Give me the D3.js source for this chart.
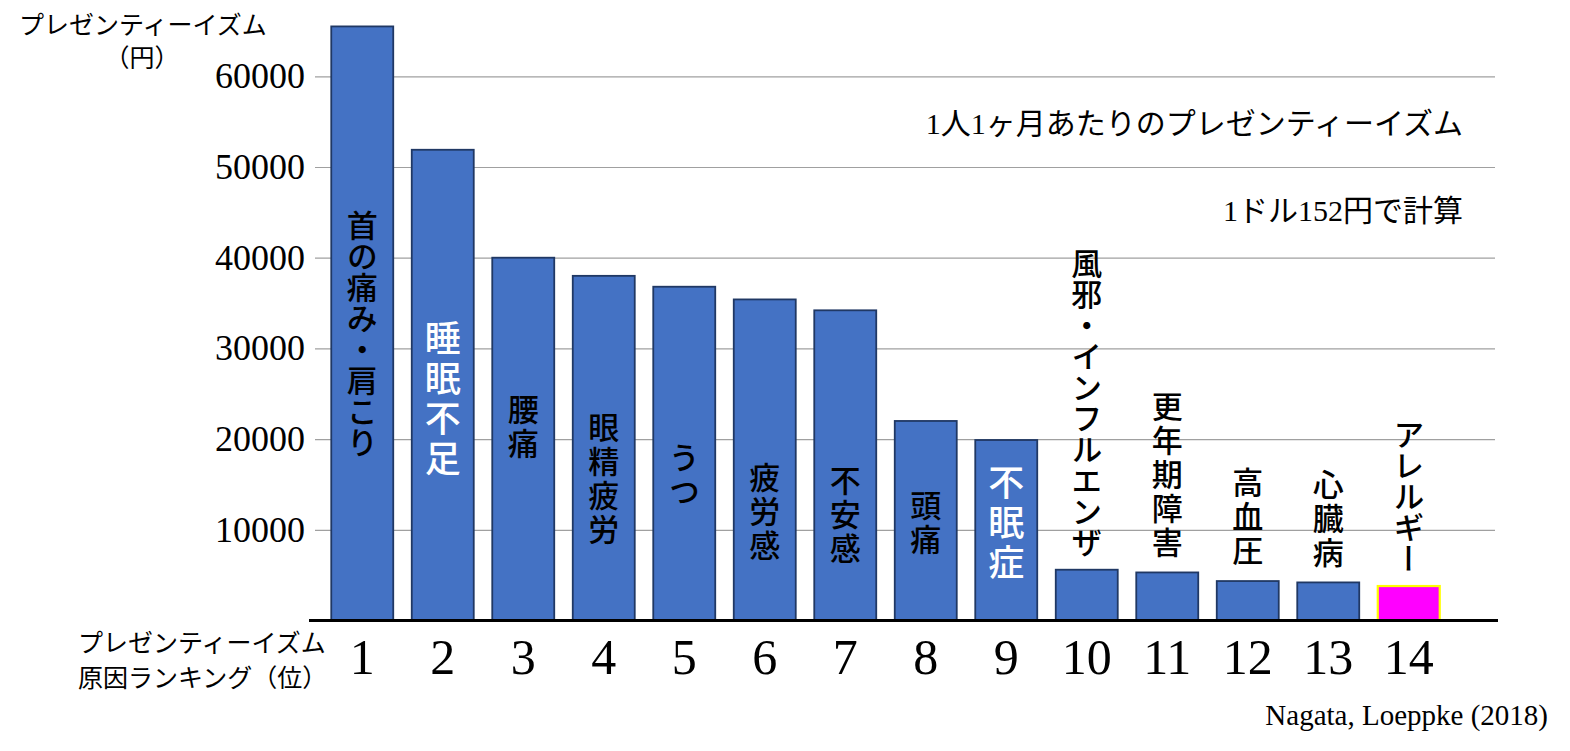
<!DOCTYPE html>
<html>
<head>
<meta charset="utf-8">
<script src="https://cdn.jsdelivr.net/npm/d3@7"></script>
<style>
  body { margin: 0; background: #fff; }
  svg text { font-family: "Noto Sans CJK JP", sans-serif; }
  .serif { font-family: "Liberation Serif", "Noto Sans CJK JP", serif !important; }
</style>
</head>
<body>
<svg id="chart"></svg>
<script>
// ranking positions and causes (Nagata, Loeppke 2018)
const ranks = ["1","2","3","4","5","6","7","8","9","10","11","12","13","14"];
const causes = ["首の痛み・肩こり","睡眠不足","腰痛","眼精疲労","うつ","疲労感","不安感",
                "頭痛","不眠症","風邪・インフルエンザ","更年期障害","高血圧","心臓病","アレルギー"];
// presenteeism cost per person per month (yen)
const costs = [65500, 51900, 40000, 38000, 36800, 35400, 34200,
               22000, 19900, 5600, 5300, 4350, 4200, 3800];
const yTicks = [10000, 20000, 30000, 40000, 50000, 60000];

// where the label sits inside the bar (in yen), null = above the bar
const labelMid = [31600, 24300, 21200, 15500, 16000, 11900, 11500, 10700, 10600,
                  null, null, null, null, null];
const whiteLabel = [false, true, false, false, false, false, false, false, true,
                    false, false, false, false, false];

const width = 1570, height = 751;

const svg = d3.select("#chart")
    .attr("width", width)
    .attr("height", height);

const x = d3.scaleBand()
    .domain(ranks)
    .range([322, 1449])
    .paddingInner(0.23)
    .paddingOuter(0.115);

const y = d3.scaleLinear()
    .domain([0, 60000])
    .range([620.5, 76.3]);

// gridlines + y tick labels
const yAxis = svg.append("g")
    .attr("transform", "translate(315,0)")
    .call(d3.axisLeft(y).tickValues(yTicks).tickSize(-1180).tickPadding(10).tickFormat(d3.format("d")));
yAxis.select(".domain").remove();
yAxis.selectAll(".tick line").attr("stroke", "#a0a0a0").attr("stroke-width", 1.2);
yAxis.selectAll(".tick text")
    .attr("class", "serif")
    .style("font-size", "36px")
    .attr("fill", "#000");

// bars
svg.append("g")
    .selectAll("rect")
    .data(costs)
    .join("rect")
    .attr("x", (d, i) => x(ranks[i]))
    .attr("y", d => y(d))
    .attr("width", x.bandwidth())
    .attr("height", d => y(0) - y(d))
    .attr("fill", (d, i) => i === 13 ? "#ff00ff" : "#4472c4")
    .attr("stroke", (d, i) => i === 13 ? "#ffff00" : "#203864")
    .attr("stroke-width", (d, i) => i === 13 ? 2.2 : 1.8);

// baseline
svg.append("line")
    .attr("x1", 309).attr("x2", 1498)
    .attr("y1", y(0)).attr("y2", y(0))
    .attr("stroke", "#000")
    .attr("stroke-width", 3);

// rank numbers
const xAxis = svg.append("g")
    .attr("transform", `translate(0,${y(0)})`)
    .call(d3.axisBottom(x).tickSize(0).tickPadding(18));
xAxis.select(".domain").remove();
xAxis.selectAll(".tick text")
    .attr("class", "serif")
    .style("font-size", "50px")
    .attr("fill", "#000");

// vertical cause labels
const tight = i => i === 0 || i === 9 || i === 13;
svg.append("g")
    .selectAll("text")
    .data(causes)
    .join("text")
    .attr("x", (d, i) => x(ranks[i]) + x.bandwidth() / 2)
    .attr("y", (d, i) => labelMid[i] !== null ? y(labelMid[i]) : y(costs[i]) - 12)
    .attr("text-anchor", (d, i) => labelMid[i] !== null ? "middle" : "end")
    .style("writing-mode", "vertical-rl")
    .style("font-size", (d, i) => whiteLabel[i] ? "36px" : "31px")
    .style("font-weight", 500)
    .style("letter-spacing", (d, i) => tight(i) ? "0px" : (whiteLabel[i] ? "4px" : "3px"))
    .attr("fill", (d, i) => whiteLabel[i] ? "#fff" : "#000")
    .text(d => d);

// axis titles
svg.append("text")
    .attr("x", 19).attr("y", 34)
    .style("font-size", "25px")
    .text("プレゼンティーイズム");
svg.append("text")
    .attr("x", 142).attr("y", 67)
    .attr("text-anchor", "middle")
    .style("font-size", "25px")
    .text("（円）");
svg.append("text")
    .attr("x", 78).attr("y", 652)
    .style("font-size", "25px")
    .text("プレゼンティーイズム");
svg.append("text")
    .attr("x", 78).attr("y", 687)
    .style("font-size", "25px")
    .text("原因ランキング（位）");

// notes
svg.append("text")
    .attr("class", "serif")
    .attr("x", 1463).attr("y", 134)
    .attr("text-anchor", "end")
    .style("font-size", "30px")
    .text("1人1ヶ月あたりのプレゼンティーイズム");
svg.append("text")
    .attr("class", "serif")
    .attr("x", 1463).attr("y", 221)
    .attr("text-anchor", "end")
    .style("font-size", "30px")
    .text("1ドル152円で計算");
svg.append("text")
    .attr("class", "serif")
    .attr("x", 1548).attr("y", 725)
    .attr("text-anchor", "end")
    .style("font-size", "29px")
    .text("Nagata, Loeppke (2018)");
</script>
</body>
</html>
